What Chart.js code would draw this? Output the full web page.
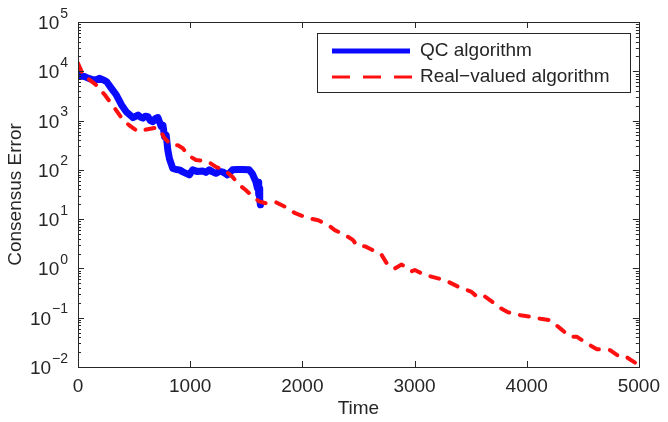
<!DOCTYPE html>
<html>
<head>
<meta charset="utf-8">
<script src="https://cdn.jsdelivr.net/npm/chart.js@4/dist/chart.umd.min.js"></script>
<style>
html,body{margin:0;padding:0;background:#fff;}
#wrap{width:668px;height:422px;}
</style>
</head>
<body>
<div id="wrap"><canvas id="c" width="668" height="422"></canvas></div>
<script>
// ---- data ----
const qcTime = [0,30,60,100,149,194,230,254,298,342,387,431,470,490,535,560,579,600,623,645,668,690,712,742,757,772,786,801,816,845,875,904,935,963,993,1022,1060,1111,1140,1170,1200,1229,1260,1288,1310,1333,1377,1420,1466,1525,1555,1585,1600,1605,1611,1615,1620,1626];
const qcError = [8900,7900,7800,7100,6600,7200,6600,6200,4500,3300,2100,1500,1260,1150,1290,1170,1120,1230,1200,1000,950,1100,1150,760,810,470,510,250,166,107,102,100,91,85,79,100,93,95,89,100,91,85,93,91,85,79,100,102,102,100,83,58,42,56,32,42,25,19.5];
const realTime = [0,47,107,166,240,328,402,461,520,560,609,683,727,772,831,890,934,978,1052,1156,1229,1303,1377,1436,1495,1555,1614,1673,1758,1847,1936,2053,2142,2230,2289,2378,2450,2487,2560,2620,2679,2708,2767,2826,2885,2973,3003,3091,3209,3298,3386,3504,3563,3622,3681,3770,3829,3947,4035,4124,4212,4301,4389,4449,4537,4626,4743,4832,4891,4980,5000];
const realError = [14500,8300,6600,5200,3300,1780,1020,790,630,600,660,710,660,440,316,316,275,200,158,148,115,100,72,50,39,29,23,21,22.4,17.8,13.2,10.5,9.5,7.6,6.0,4.8,3.8,2.9,2.8,2.4,2.1,1.86,1.12,1.0,1.2,0.87,0.93,0.74,0.63,0.54,0.43,0.34,0.26,0.275,0.22,0.155,0.13,0.112,0.105,0.095,0.089,0.060,0.041,0.041,0.030,0.023,0.022,0.0158,0.0158,0.0117,0.0112];
const xTicks = [0,1000,2000,3000,4000,5000];
const xTickLabels = ['0','1000','2000','3000','4000','5000'];
const yExponents = [-2,-1,0,1,2,3,4,5];
const seriesNames = ['QC algorithm','Real\u2212valued algorithm'];
const axisTitles = {x:'Time', y:'Consensus Error'};

const FONT = "'Liberation Sans', Arial, Helvetica, sans-serif";
const TXT = '#262626';
const BLUE = '#0a0aff';
const RED = '#ff1010';

const pts = (xs, ys) => xs.map((x, i) => ({x: x, y: ys[i]}));

const decor = {
  id: 'decor',
  afterDraw(chart) {
    const ctx = chart.ctx;
    const a = chart.chartArea;
    const xs = chart.scales.x, ys = chart.scales.y;
    ctx.save();
    ctx.strokeStyle = TXT;
    ctx.lineWidth = 1;
    // ticks
    ctx.beginPath();
    xTicks.forEach(v => {
      const px = Math.round(xs.getPixelForValue(v)) + 0.5;
      ctx.moveTo(px, a.bottom); ctx.lineTo(px, a.bottom - 6);
      ctx.moveTo(px, a.top); ctx.lineTo(px, a.top + 6);
    });
    for (let e = yExponents[0]; e <= yExponents[yExponents.length - 1]; e++) {
      for (let m = 1; m <= 9; m++) {
        const v = m * Math.pow(10, e);
        if (v > ys.max * 1.0001) break;
        const py = Math.round(ys.getPixelForValue(v)) + 0.5;
        const len = m === 1 ? 6 : 3;
        ctx.moveTo(a.left, py); ctx.lineTo(a.left + len, py);
        ctx.moveTo(a.right, py); ctx.lineTo(a.right - len, py);
      }
    }
    ctx.stroke();
    // frame
    ctx.strokeRect(Math.round(a.left) + 0.5, Math.round(a.top) + 0.5, Math.round(a.right - a.left), Math.round(a.bottom - a.top));
    // y tick labels 10^k
    ctx.fillStyle = TXT;
    ctx.textBaseline = 'alphabetic';
    yExponents.forEach(e => {
      const py = ys.getPixelForValue(Math.pow(10, e));
      const expStr = e < 0 ? '\u2212' + (-e) : String(e);
      ctx.font = '14px ' + FONT;
      const w = ctx.measureText(expStr).width;
      const expRight = a.left - 10;
      ctx.textAlign = 'right';
      ctx.fillText(expStr, expRight, py - 4.5);
      ctx.font = '19px ' + FONT;
      ctx.fillText('10', expRight - w - 1, py + 7);
    });
    // legend
    const lx = 317, ly = 33, lw = 313, lh = 59;
    ctx.fillStyle = '#fff';
    ctx.fillRect(lx, ly, lw, lh);
    ctx.strokeStyle = TXT;
    ctx.lineWidth = 1;
    ctx.strokeRect(lx + 0.5, ly + 0.5, lw, lh);
    ctx.lineCap = 'butt';
    ctx.strokeStyle = BLUE; ctx.lineWidth = 5;
    ctx.beginPath(); ctx.moveTo(332, 51); ctx.lineTo(410, 51); ctx.stroke();
    ctx.strokeStyle = RED; ctx.lineWidth = 3;
    ctx.setLineDash([18, 13]);
    ctx.beginPath(); ctx.moveTo(332, 77); ctx.lineTo(412, 77); ctx.stroke();
    ctx.setLineDash([]);
    ctx.fillStyle = TXT;
    ctx.font = '19px ' + FONT;
    ctx.textAlign = 'left';
    ctx.textBaseline = 'middle';
    ctx.fillText(seriesNames[0], 420, 51);
    ctx.fillText(seriesNames[1], 420, 77);
    ctx.restore();
  }
};

new Chart(document.getElementById('c'), {
  type: 'line',
  data: {
    datasets: [
      {label: seriesNames[1], data: pts(realTime, realError), borderColor: RED, borderWidth: 4, borderDash: [9, 11], borderCapStyle: 'round', borderJoinStyle: 'round', pointRadius: 0, tension: 0, fill: false},
      {label: seriesNames[0], data: pts(qcTime, qcError), borderColor: BLUE, borderWidth: 7, borderCapStyle: 'round', borderJoinStyle: 'round', pointRadius: 0, tension: 0, fill: false}
    ]
  },
  options: {
    responsive: false,
    animation: false,
    devicePixelRatio: 1,
    layout: {padding: {top: 22, right: 26, left: 0, bottom: 0}},
    plugins: {legend: {display: false}, tooltip: {enabled: false}},
    scales: {
      x: {
        type: 'linear', min: 0, max: 5000,
        afterBuildTicks: s => { s.ticks = xTicks.map(v => ({value: v})); },
        ticks: {
          font: {family: FONT, size: 19}, color: TXT, padding: 8, maxRotation: 0, autoSkip: false,
          callback: (v) => { const i = xTicks.indexOf(v); return i >= 0 ? xTickLabels[i] : ''; }
        },
        grid: {display: false, drawTicks: false},
        border: {display: false},
        title: {display: true, text: axisTitles.x, font: {family: FONT, size: 19}, color: TXT, padding: {top: 0, bottom: 2}},
        afterFit: s => { s.height = 55; }
      },
      y: {
        type: 'logarithmic', min: 0.01, max: 100000,
        ticks: {display: false},
        grid: {display: false, drawTicks: false},
        border: {display: false},
        title: {display: true, text: axisTitles.y, font: {family: FONT, size: 19}, color: TXT, padding: {top: 4, bottom: 0}},
        afterFit: s => { s.width = 78; }
      }
    }
  },
  plugins: [decor]
});
</script>
</body>
</html>
